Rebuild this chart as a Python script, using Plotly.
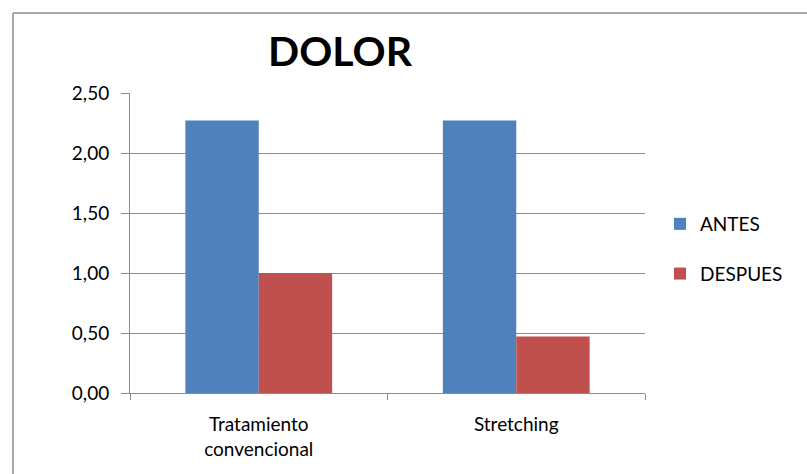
import plotly.graph_objects as go

categories = ["Tratamiento<br>convencional", "Stretching"]
antes = [2.27, 2.27]
despues = [1.00, 0.47]
y_ticks = [0, 0.5, 1.0, 1.5, 2.0, 2.5]

W, H = 807, 474
L, R, T, B = 130, 162, 93, 81
pw, ph = W - L - R, H - T - B

fig = go.Figure()
fig.add_trace(go.Bar(name="ANTES", x=categories, y=antes, legendgroup="a",
                     marker=dict(color="#4F81BD", line=dict(width=0))))
fig.add_trace(go.Bar(name="DESPUES", x=categories, y=despues, legendgroup="d",
                     marker=dict(color="#C0504D", line=dict(width=0))))

font = "Lato, 'Open Sans', sans-serif"
fig.update_layout(
    width=W, height=H,
    margin=dict(l=L, r=R, t=T, b=B),
    paper_bgcolor="white", plot_bgcolor="white",
    barmode="group", bargap=0.43, bargroupgap=0,
    separators=",.",
    font=dict(family=font, size=19, color="#000000"),
    title=dict(text="<b>DOLOR</b>", x=(340 - L) / pw, xref="paper", xanchor="center",
               y=1 - 52 / H, yanchor="middle", font=dict(size=41, family=font)),
    legend=dict(x=(660 - L) / pw, y=(H - B - 249) / ph, xanchor="left", yanchor="middle",
                font=dict(size=19), tracegroupgap=22, itemsizing="constant",
                bgcolor="rgba(0,0,0,0)"),
    xaxis=dict(showline=True, linecolor="#8c8c8c", linewidth=1, ticks="outside", tickson="boundaries",
               ticklen=6, tickcolor="#8c8c8c", showgrid=False, tickfont=dict(size=19),
               ticklabelstandoff=14),
    yaxis=dict(range=[0, 2.5], tickvals=y_ticks, tickformat=".2f", showline=True, linecolor="#8c8c8c",
               linewidth=1, ticks="outside", ticklen=8, tickcolor="#8c8c8c", gridcolor="#8c8c8c",
               gridwidth=1, tickfont=dict(size=19), zeroline=False, ticklabelstandoff=8),
)

# outer chart border
x0 = (13 - L) / pw
y1 = (H - B - 13) / ph
fig.add_shape(type="line", xref="paper", yref="paper", x0=x0, x1=x0, y0=y1, y1=-0.5,
              line=dict(color="#8c8c8c", width=1.5))
fig.add_shape(type="line", xref="paper", yref="paper", x0=x0, x1=1.5, y0=y1, y1=y1,
              line=dict(color="#8c8c8c", width=1.5))

fig.write_html("out.html")
